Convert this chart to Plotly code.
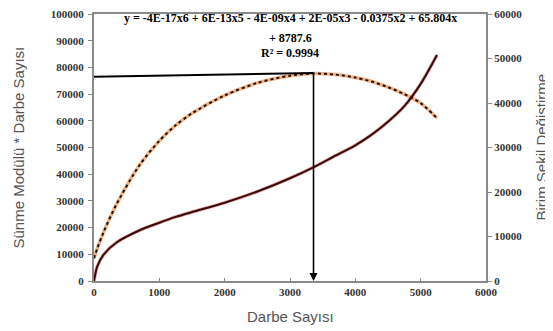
import plotly.graph_objects as go

# Data
darbe = [0, 50, 150, 350, 700, 1000, 1250, 1500, 2000, 2500, 3000, 3350, 3700, 4000, 4250, 4500, 4750, 5000, 5250]
modul_darbe = [8500, 12200, 18500, 29000, 43500, 52500, 58300, 62800, 69500, 74200, 76900, 77700, 77300, 76200, 74700, 72600, 70000, 66600, 61000]
birim_sekil = [0, 3300, 6000, 8700, 11400, 13100, 14400, 15500, 17600, 20100, 23100, 25500, 28200, 30500, 32900, 35800, 39300, 44300, 50800]

x_ticks = [0, 1000, 2000, 3000, 4000, 5000, 6000]
y_left_ticks = [0, 10000, 20000, 30000, 40000, 50000, 60000, 70000, 80000, 90000, 100000]
y_right_ticks = [0, 10000, 20000, 30000, 40000, 50000, 60000]

peak_x = 3360
peak_line_y = [76500, 77900]

eq_line1 = "y = -4E-17x6 + 6E-13x5 - 4E-09x4 + 2E-05x3 - 0.0375x2 + 65.804x"
eq_line2 = "+ 8787.6"
eq_line3 = "R² = 0.9994"

fig = go.Figure()

# Orange data line with black dotted trend on top (left axis)
fig.add_trace(go.Scatter(x=darbe, y=modul_darbe, mode="lines",
                         line=dict(color="rgba(235,130,50,0.6)", width=3.5, shape="spline", smoothing=0.8),
                         showlegend=False, hoverinfo="skip"))
fig.add_trace(go.Scatter(x=darbe, y=modul_darbe, mode="lines",
                         line=dict(color="#1a1008", width=2, dash="dot", shape="spline", smoothing=0.8),
                         showlegend=False))

# Dark red curve (right axis)
fig.add_trace(go.Scatter(x=darbe, y=birim_sekil, yaxis="y2", mode="lines",
                         line=dict(color="rgba(190,40,40,0.4)", width=3.5, shape="spline", smoothing=0.8),
                         showlegend=False, hoverinfo="skip"))
fig.add_trace(go.Scatter(x=darbe, y=birim_sekil, yaxis="y2", mode="lines",
                         line=dict(color="#3a0808", width=2, shape="spline", smoothing=0.8),
                         showlegend=False))

tickfont = dict(family="Liberation Serif", size=11, color="#333333", weight="bold")
axcol = "#8a8a8a"

# The page body adds an 8px offset, so the figure is sized/margined to compensate
fig.update_layout(
    width=545, height=323,
    margin=dict(l=86, r=67, t=6, b=50, autoexpand=False),
    paper_bgcolor="white", plot_bgcolor="white",
    xaxis=dict(range=[0, 6000], tickvals=x_ticks, ticktext=[str(v) for v in x_ticks],
               ticks="inside", ticklen=3, tickcolor=axcol, ticklabeloverflow="allow",
               showline=True, linecolor=axcol, linewidth=2, mirror=True, showgrid=False, zeroline=False,
               tickfont=tickfont),
    yaxis=dict(range=[0, 100000], tickvals=y_left_ticks, ticktext=[str(v) for v in y_left_ticks],
               ticks="outside", ticklen=4, tickcolor=axcol, ticklabeloverflow="allow",
               showline=True, linecolor=axcol, linewidth=2, showgrid=False, zeroline=False,
               tickfont=tickfont, ticklabelstandoff=2),
    yaxis2=dict(range=[0, 60000], tickvals=y_right_ticks, ticktext=[str(v) for v in y_right_ticks],
                overlaying="y", side="right", ticks="outside", ticklen=4, ticklabeloverflow="allow",
                tickcolor=axcol, showline=True, linecolor=axcol, linewidth=2, showgrid=False, zeroline=False,
                tickfont=tickfont),
)

# Peak guide line and arrow
fig.add_shape(type="line", xref="x", yref="y", x0=0, y0=peak_line_y[0], x1=peak_x, y1=peak_line_y[1],
              line=dict(color="black", width=2))
fig.add_annotation(x=peak_x, y=0, ax=peak_x, ay=peak_line_y[1], xref="x", yref="y", axref="x", ayref="y",
                   text="", showarrow=True, arrowhead=2, arrowsize=1, arrowwidth=1.6, arrowcolor="black")

eqfont = dict(family="Liberation Serif", size=12, color="black", weight="bold")
fig.add_annotation(xref="paper", yref="paper", x=0.5, y=(281 - 18) / 267, text=eq_line1, showarrow=False,
                   font=eqfont, xanchor="center", yanchor="middle")
fig.add_annotation(xref="paper", yref="paper", x=0.5, y=(281 - 38) / 267, text=eq_line2, showarrow=False,
                   font=eqfont, xanchor="center", yanchor="middle")
fig.add_annotation(xref="paper", yref="paper", x=0.5, y=(281 - 53) / 267, text=eq_line3, showarrow=False,
                   font=eqfont, xanchor="center", yanchor="middle")

titlefont = dict(family="Liberation Sans", size=15, color="#555555")
fig.add_annotation(xref="paper", yref="paper", x=-(94 - 18) / 392, y=0.5, text="Sünme Modülü * Darbe Sayısı",
                   textangle=-90, showarrow=False, font=titlefont, xanchor="center", yanchor="middle")
fig.add_annotation(xref="paper", yref="paper", x=1 + (541 - 486) / 392, y=0.5, text="Birim Şekil Değiştirme",
                   textangle=-90, showarrow=False, font=titlefont, xanchor="center", yanchor="middle")
fig.add_annotation(xref="paper", yref="paper", x=0.5, y=-(317 - 281) / 267, text="Darbe Sayısı",
                   showarrow=False, font=titlefont, xanchor="center", yanchor="middle")

fig.write_html("out.html")
